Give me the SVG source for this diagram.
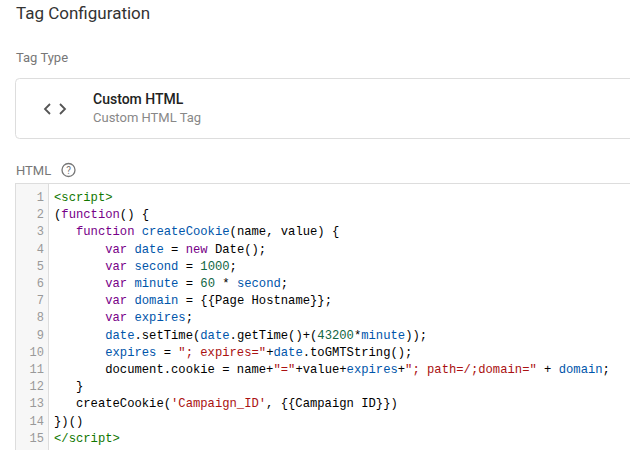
<svg xmlns="http://www.w3.org/2000/svg" width="630" height="450" viewBox="0 0 630 450">
<style>
.ui{font-family:Roboto,"Liberation Sans",sans-serif}
.c{font-family:"Liberation Mono",monospace;font-size:12.2px;fill:#000;white-space:pre}
.n{font-family:"Liberation Mono",monospace;font-size:12px;fill:#999;text-anchor:end}
.k{fill:#770088}.v{fill:#0055aa}.d{fill:#0000ff}.s{fill:#aa1111}.m{fill:#116644}.t{fill:#117700}
</style>
<rect width="630" height="450" fill="#fff"/>
<g id="header">
<text class="ui" x="16" y="19" font-size="17" fill="#333">Tag Configuration</text>
<text class="ui" x="16" y="62" font-size="13" fill="#777">Tag Type</text>
</g>
<g id="tag-card">
<rect x="15.5" y="78.5" width="630" height="60" rx="4" fill="#fff" stroke="#ddd"/>
<polyline points="50,104 45,109 50,114" fill="none" stroke="#555" stroke-width="1.8"/>
<polyline points="60,104 65,109 60,114" fill="none" stroke="#555" stroke-width="1.8"/>
<text class="ui" x="93" y="104" font-size="14" font-weight="500" fill="#222">Custom HTML</text>
<text class="ui" x="93" y="122" font-size="13" fill="#888">Custom HTML Tag</text>
</g>
<g id="html-label">
<text class="ui" x="16" y="175" font-size="13" fill="#777">HTML</text>
<circle cx="68.5" cy="170" r="6.5" fill="none" stroke="#777" stroke-width="1.3"/>
<text class="ui" x="68.5" y="174" font-size="10" fill="#777" text-anchor="middle">?</text>
</g>
<g id="editor">
<rect x="15.5" y="183.5" width="630" height="270" fill="#fff" stroke="#ddd"/>
<rect x="16" y="184" width="32" height="270" fill="#f7f7f7"/>
<line x1="48.5" y1="184" x2="48.5" y2="450" stroke="#ddd"/>
<g id="gutter">
<text class="n" x="44" y="201">1</text><text class="n" x="44" y="218.2">2</text><text class="n" x="44" y="235.4">3</text><text class="n" x="44" y="252.6">4</text><text class="n" x="44" y="269.8">5</text><text class="n" x="44" y="287">6</text><text class="n" x="44" y="304.2">7</text><text class="n" x="44" y="321.4">8</text><text class="n" x="44" y="338.6">9</text><text class="n" x="44" y="355.8">10</text><text class="n" x="44" y="373">11</text><text class="n" x="44" y="390.2">12</text><text class="n" x="44" y="407.4">13</text><text class="n" x="44" y="424.6">14</text><text class="n" x="44" y="441.8">15</text>
</g>
<g id="code" xml:space="preserve">
<text class="c" x="54" y="201"><tspan class="t">&lt;script&gt;</tspan></text>
<text class="c" x="54" y="218.2">(<tspan class="k">function</tspan>() {</text>
<text class="c" x="54" y="235.4">   <tspan class="k">function</tspan> <tspan class="v">createCookie</tspan>(name, value) {</text>
<text class="c" x="54" y="252.6">       <tspan class="k">var</tspan> <tspan class="v">date</tspan> = <tspan class="k">new</tspan> Date();</text>
<text class="c" x="54" y="269.8">       <tspan class="k">var</tspan> <tspan class="v">second</tspan> = <tspan class="m">1000</tspan>;</text>
<text class="c" x="54" y="287">       <tspan class="k">var</tspan> <tspan class="v">minute</tspan> = <tspan class="m">60</tspan> * <tspan class="v">second</tspan>;</text>
<text class="c" x="54" y="304.2">       <tspan class="k">var</tspan> <tspan class="v">domain</tspan> = {{Page Hostname}};</text>
<text class="c" x="54" y="321.4">       <tspan class="k">var</tspan> <tspan class="v">expires</tspan>;</text>
<text class="c" x="54" y="338.6">       <tspan class="v">date</tspan>.setTime(<tspan class="v">date</tspan>.getTime()+(<tspan class="m">43200</tspan>*<tspan class="v">minute</tspan>));</text>
<text class="c" x="54" y="355.8">       <tspan class="v">expires</tspan> = <tspan class="s">"; expires="</tspan>+<tspan class="v">date</tspan>.toGMTString();</text>
<text class="c" x="54" y="373">       document.cookie = name+<tspan class="s">"="</tspan>+value+<tspan class="v">expires</tspan>+<tspan class="s">"; path=/;domain="</tspan> + <tspan class="v">domain</tspan>;</text>
<text class="c" x="54" y="390.2">   }</text>
<text class="c" x="54" y="407.4">   createCookie(<tspan class="s">'Campaign_ID'</tspan>, {{Campaign ID}})</text>
<text class="c" x="54" y="424.6">})()</text>
<text class="c" x="54" y="441.8"><tspan class="t">&lt;/script&gt;</tspan></text>
</g>
</g>
</svg>
